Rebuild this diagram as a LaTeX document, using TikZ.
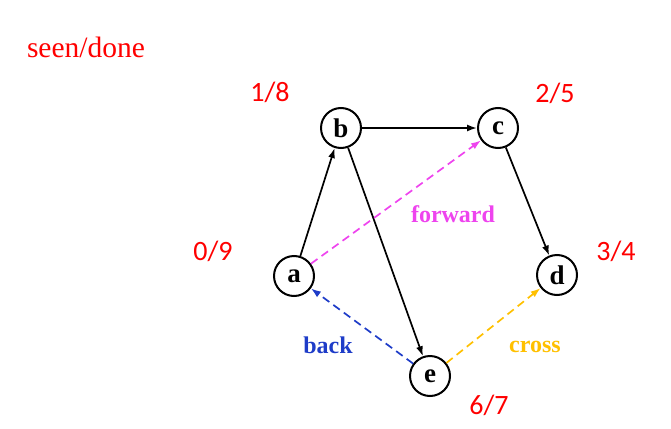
\documentclass[tikz,border=0pt]{standalone}
\usepackage{fontspec}
\setmainfont{Liberation Serif}
\newfontfamily\numfont{Carlito}
\usetikzlibrary{arrows.meta}
\definecolor{fwd}{HTML}{EE44EE}
\definecolor{bck}{HTML}{1E3CC8}
\definecolor{crs}{HTML}{FFC000}
\begin{document}
\begin{tikzpicture}[x=1pt,y=-1pt,
  vtx/.style={circle,draw,line width=2pt,minimum size=40pt,inner sep=0pt,font=\fontsize{27}{29}\selectfont\bfseries},
  edge/.style={line width=1.7pt,-{Latex[length=10pt,width=7pt]}},
  nt/.style={text=red,font=\numfont\fontsize{28}{30}\selectfont},
  lab/.style={font=\fontsize{24}{26}\selectfont\bfseries},
  dsh/.style={edge,dash pattern=on 8pt off 5pt}]
\useasboundingbox (0,0) rectangle (671,428);
\node[text=red,font=\fontsize{29.5}{31}\selectfont] (title) at (86,47) {seen/done};
\node[vtx] (b) at (341,128) {b};
\node[vtx] (c) at (498,128) {c};
\node[vtx] (a) at (294,276) {a};
\node[vtx] (d) at (557,275) {d};
\node[vtx] (e) at (430,376) {e};
\node[nt] (lb) at (270,92) {1/8};
\node[nt] (lc) at (555,93) {2/5};
\node[nt] (la) at (213,251) {0/9};
\node[nt] (ld) at (616,251) {3/4};
\node[nt] (le) at (489,405) {6/7};
\draw[edge] (a) -- (b);
\draw[edge] (b) -- (c);
\draw[edge] (c) -- (d);
\draw[edge] (b) -- (e);
\draw[dsh,fwd] (a) -- (c);
\draw[dsh,bck] (e) -- (a);
\draw[dsh,crs] (e) -- (d);
\node[lab,text=fwd] (lf) at (453,214) {forward};
\node[lab,text=bck] (lbk) at (328,345) {back};
\node[lab,text=crs] (lcr) at (535,347) {cross};
\end{tikzpicture}
\end{document}
